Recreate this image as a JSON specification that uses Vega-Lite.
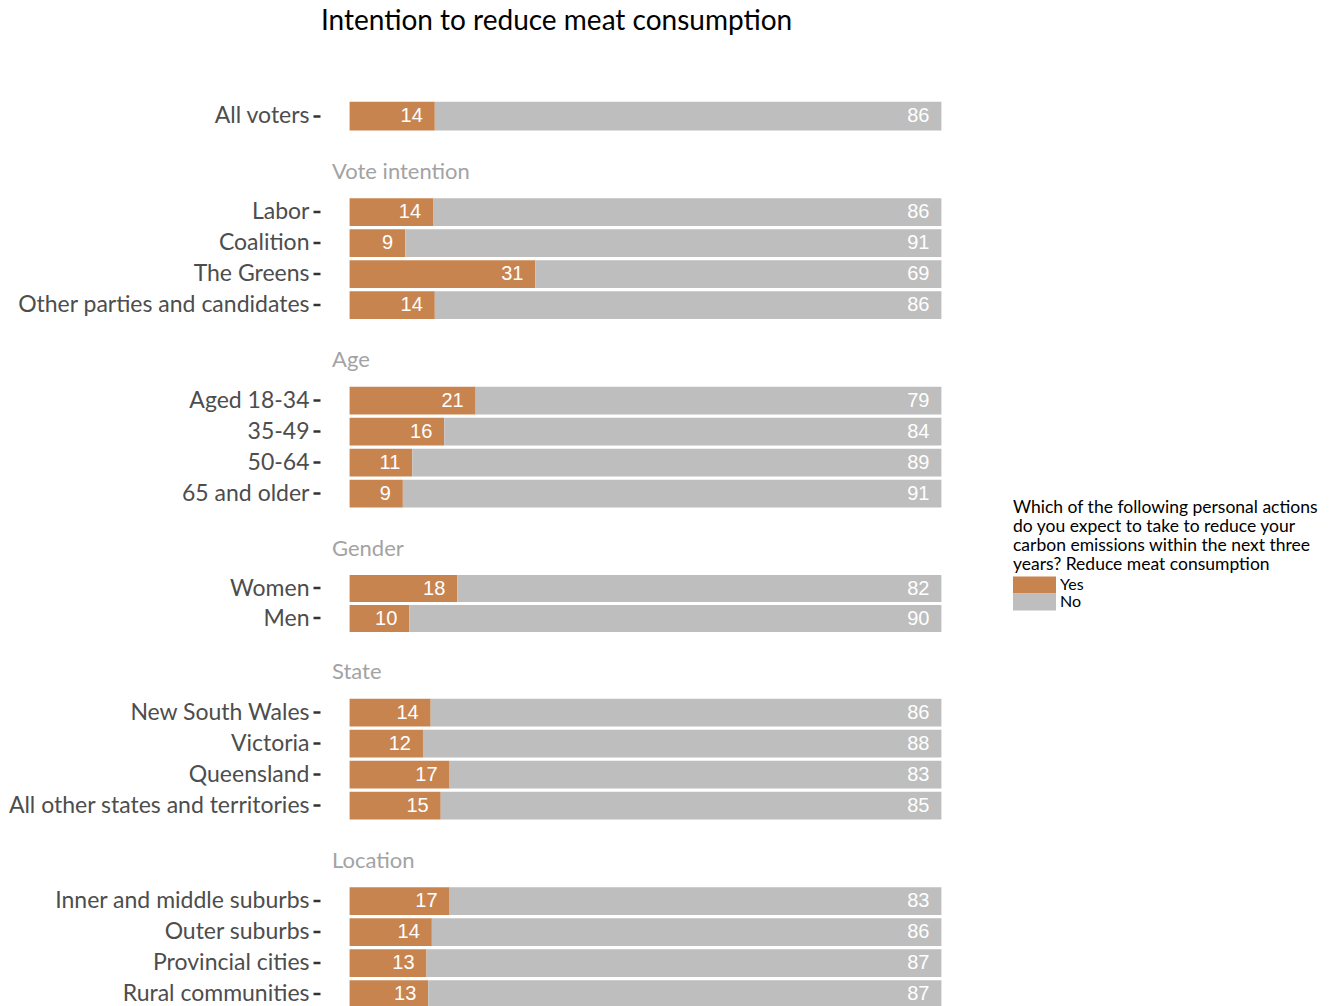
{
  "$schema": "https://vega.github.io/schema/vega-lite/v6.json",
  "background": "white",
  "padding": {"left": 7, "top": 8, "right": 5, "bottom": 5},
  "title": {"text": "Intention to reduce meat consumption", "fontSize": 28, "font": "Lato", "fontWeight": "normal", "color": "black", "anchor": "start", "frame": "bounds", "dx": 313, "dy": 0, "offset": 61, "baseline": "top"},
  "datasets": {
    "d": [
      {"panel": "All", "item": "All voters", "response": "Yes", "value": 14.4},
      {"panel": "All", "item": "All voters", "response": "No", "value": 85.6},
      {"panel": "Vote intention", "item": "Labor", "response": "Yes", "value": 14.1},
      {"panel": "Vote intention", "item": "Labor", "response": "No", "value": 85.9},
      {"panel": "Vote intention", "item": "Coalition", "response": "Yes", "value": 9.4},
      {"panel": "Vote intention", "item": "Coalition", "response": "No", "value": 90.6},
      {"panel": "Vote intention", "item": "The Greens", "response": "Yes", "value": 31.4},
      {"panel": "Vote intention", "item": "The Greens", "response": "No", "value": 68.6},
      {"panel": "Vote intention", "item": "Other parties and candidates", "response": "Yes", "value": 14.4},
      {"panel": "Vote intention", "item": "Other parties and candidates", "response": "No", "value": 85.6},
      {"panel": "Age", "item": "Aged 18-34", "response": "Yes", "value": 21.3},
      {"panel": "Age", "item": "Aged 18-34", "response": "No", "value": 78.7},
      {"panel": "Age", "item": "35-49", "response": "Yes", "value": 16.0},
      {"panel": "Age", "item": "35-49", "response": "No", "value": 84.0},
      {"panel": "Age", "item": "50-64", "response": "Yes", "value": 10.6},
      {"panel": "Age", "item": "50-64", "response": "No", "value": 89.4},
      {"panel": "Age", "item": "65 and older", "response": "Yes", "value": 9.0},
      {"panel": "Age", "item": "65 and older", "response": "No", "value": 91.0},
      {"panel": "Gender", "item": "Women", "response": "Yes", "value": 18.2},
      {"panel": "Gender", "item": "Women", "response": "No", "value": 81.8},
      {"panel": "Gender", "item": "Men", "response": "Yes", "value": 10.1},
      {"panel": "Gender", "item": "Men", "response": "No", "value": 89.9},
      {"panel": "State", "item": "New South Wales", "response": "Yes", "value": 13.7},
      {"panel": "State", "item": "New South Wales", "response": "No", "value": 86.3},
      {"panel": "State", "item": "Victoria", "response": "Yes", "value": 12.4},
      {"panel": "State", "item": "Victoria", "response": "No", "value": 87.6},
      {"panel": "State", "item": "Queensland", "response": "Yes", "value": 16.9},
      {"panel": "State", "item": "Queensland", "response": "No", "value": 83.1},
      {"panel": "State", "item": "All other states and territories", "response": "Yes", "value": 15.4},
      {"panel": "State", "item": "All other states and territories", "response": "No", "value": 84.6},
      {"panel": "Location", "item": "Inner and middle suburbs", "response": "Yes", "value": 16.9},
      {"panel": "Location", "item": "Inner and middle suburbs", "response": "No", "value": 83.1},
      {"panel": "Location", "item": "Outer suburbs", "response": "Yes", "value": 13.9},
      {"panel": "Location", "item": "Outer suburbs", "response": "No", "value": 86.1},
      {"panel": "Location", "item": "Provincial cities", "response": "Yes", "value": 13.0},
      {"panel": "Location", "item": "Provincial cities", "response": "No", "value": 87.0},
      {"panel": "Location", "item": "Rural communities", "response": "Yes", "value": 13.3},
      {"panel": "Location", "item": "Rural communities", "response": "No", "value": 86.7}
    ]
  },
  "data": {"name": "d"},
  "spacing": 24.5,
  "vconcat": [
    {
      "transform": [{"filter": "datum.panel === 'All'"}],
      "width": 651, "height": {"step": 32},
      "encoding": {"y": {"field": "item", "type": "nominal", "sort": null, "title": null, "scale": {"paddingInner": 0.1, "paddingOuter": 0.15}}},
      "layer": [
        {"mark": {"type": "bar"}, "encoding": {"x": {"field": "value", "type": "quantitative", "stack": "zero", "scale": {"domain": [-5, 105], "nice": false}, "axis": null}, "color": {"field": "response", "type": "nominal", "scale": {"domain": ["Yes", "No"], "range": ["#C8844F", "#BEBEBE"]}, "title": ["Which of the following personal actions", "do you expect to take to reduce your", "carbon emissions within the next three", "years? Reduce meat consumption"]}, "order": {"field": "response", "sort": "descending"}}},
        {"mark": {"type": "text", "align": "right", "baseline": "middle", "dx": -12, "font": "Liberation Sans", "fontSize": 20, "color": "white"}, "encoding": {"x": {"field": "value", "type": "quantitative", "stack": "zero"}, "text": {"field": "value", "type": "quantitative", "format": ".0f"}, "order": {"field": "response", "sort": "descending"}}}
      ]
    },
    {
      "title": {"text": "Vote intention"},
      "transform": [{"filter": "datum.panel === 'Vote intention'"}],
      "width": 651, "height": {"step": 31},
      "encoding": {"y": {"field": "item", "type": "nominal", "sort": null, "title": null, "scale": {"paddingInner": 0.1, "paddingOuter": 0.15}}},
      "layer": [
        {"mark": {"type": "bar"}, "encoding": {"x": {"field": "value", "type": "quantitative", "stack": "zero", "scale": {"domain": [-5, 105], "nice": false}, "axis": null}, "color": {"field": "response", "type": "nominal"}, "order": {"field": "response", "sort": "descending"}}},
        {"mark": {"type": "text", "align": "right", "baseline": "middle", "dx": -12, "font": "Liberation Sans", "fontSize": 20, "color": "white"}, "encoding": {"x": {"field": "value", "type": "quantitative", "stack": "zero"}, "text": {"field": "value", "type": "quantitative", "format": ".0f"}, "order": {"field": "response", "sort": "descending"}}}
      ]
    },
    {
      "title": {"text": "Age"},
      "transform": [{"filter": "datum.panel === 'Age'"}],
      "width": 651, "height": {"step": 31},
      "encoding": {"y": {"field": "item", "type": "nominal", "sort": null, "title": null, "scale": {"paddingInner": 0.1, "paddingOuter": 0.15}}},
      "layer": [
        {"mark": {"type": "bar"}, "encoding": {"x": {"field": "value", "type": "quantitative", "stack": "zero", "scale": {"domain": [-5, 105], "nice": false}, "axis": null}, "color": {"field": "response", "type": "nominal"}, "order": {"field": "response", "sort": "descending"}}},
        {"mark": {"type": "text", "align": "right", "baseline": "middle", "dx": -12, "font": "Liberation Sans", "fontSize": 20, "color": "white"}, "encoding": {"x": {"field": "value", "type": "quantitative", "stack": "zero"}, "text": {"field": "value", "type": "quantitative", "format": ".0f"}, "order": {"field": "response", "sort": "descending"}}}
      ]
    },
    {
      "title": {"text": "Gender"},
      "transform": [{"filter": "datum.panel === 'Gender'"}],
      "width": 651, "height": {"step": 30},
      "encoding": {"y": {"field": "item", "type": "nominal", "sort": null, "title": null, "scale": {"paddingInner": 0.1, "paddingOuter": 0.15}}},
      "layer": [
        {"mark": {"type": "bar"}, "encoding": {"x": {"field": "value", "type": "quantitative", "stack": "zero", "scale": {"domain": [-5, 105], "nice": false}, "axis": null}, "color": {"field": "response", "type": "nominal"}, "order": {"field": "response", "sort": "descending"}}},
        {"mark": {"type": "text", "align": "right", "baseline": "middle", "dx": -12, "font": "Liberation Sans", "fontSize": 20, "color": "white"}, "encoding": {"x": {"field": "value", "type": "quantitative", "stack": "zero"}, "text": {"field": "value", "type": "quantitative", "format": ".0f"}, "order": {"field": "response", "sort": "descending"}}}
      ]
    },
    {
      "title": {"text": "State"},
      "transform": [{"filter": "datum.panel === 'State'"}],
      "width": 651, "height": {"step": 31},
      "encoding": {"y": {"field": "item", "type": "nominal", "sort": null, "title": null, "scale": {"paddingInner": 0.1, "paddingOuter": 0.15}}},
      "layer": [
        {"mark": {"type": "bar"}, "encoding": {"x": {"field": "value", "type": "quantitative", "stack": "zero", "scale": {"domain": [-5, 105], "nice": false}, "axis": null}, "color": {"field": "response", "type": "nominal"}, "order": {"field": "response", "sort": "descending"}}},
        {"mark": {"type": "text", "align": "right", "baseline": "middle", "dx": -12, "font": "Liberation Sans", "fontSize": 20, "color": "white"}, "encoding": {"x": {"field": "value", "type": "quantitative", "stack": "zero"}, "text": {"field": "value", "type": "quantitative", "format": ".0f"}, "order": {"field": "response", "sort": "descending"}}}
      ]
    },
    {
      "title": {"text": "Location"},
      "transform": [{"filter": "datum.panel === 'Location'"}],
      "width": 651, "height": {"step": 31},
      "encoding": {"y": {"field": "item", "type": "nominal", "sort": null, "title": null, "scale": {"paddingInner": 0.1, "paddingOuter": 0.15}}},
      "layer": [
        {"mark": {"type": "bar"}, "encoding": {"x": {"field": "value", "type": "quantitative", "stack": "zero", "scale": {"domain": [-5, 105], "nice": false}, "axis": null}, "color": {"field": "response", "type": "nominal"}, "order": {"field": "response", "sort": "descending"}}},
        {"mark": {"type": "text", "align": "right", "baseline": "middle", "dx": -12, "font": "Liberation Sans", "fontSize": 20, "color": "white"}, "encoding": {"x": {"field": "value", "type": "quantitative", "stack": "zero"}, "text": {"field": "value", "type": "quantitative", "format": ".0f"}, "order": {"field": "response", "sort": "descending"}}}
      ]
    }
  ],
  "config": {
    "view": {"stroke": null},
    "title": {"font": "Lato", "fontSize": 22, "fontWeight": "normal", "color": "#A3A3A3", "anchor": "start", "frame": "group", "dx": 12, "baseline": "alphabetic", "offset": 10},
    "axisY": {"domain": false, "grid": false, "ticks": true, "tickSize": 7, "tickWidth": 2.5, "tickColor": "#333333", "labelFont": "Lato", "labelFontSize": 23, "labelColor": "#4D4D4D", "labelPadding": 4, "labelLimit": 500},
    "legend": {"orient": "none", "legendX": 693, "legendY": 402, "titleFont": "Lato", "titleFontSize": 17.5, "titleFontWeight": "normal", "titleColor": "black", "titleLineHeight": 19, "titleLimit": 500, "titlePadding": 3, "labelFont": "Lato", "labelFontSize": 16, "labelColor": "black", "labelOffset": 17, "symbolType": "M-2.53,-1H2.53V1H-2.53Z", "symbolSize": 289, "symbolStrokeWidth": 0, "symbolOpacity": 1, "symbolOffset": 13, "rowPadding": 0}
  }
}
